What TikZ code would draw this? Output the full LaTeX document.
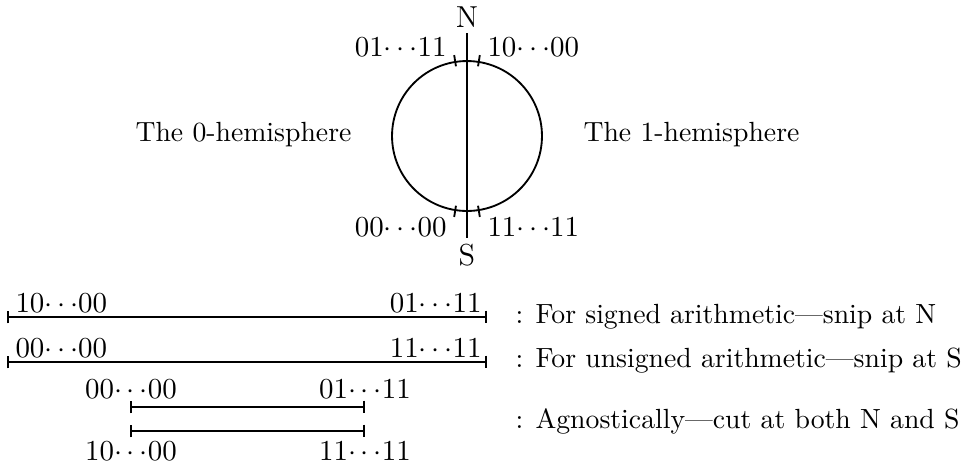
\documentclass[tikz,border=0pt]{standalone}
\usetikzlibrary{positioning, arrows.meta, calc}

\newcommand{\bitrun}[2]{$#1{\cdots}#2$}

\begin{document}
\begin{tikzpicture}[
  x=0.0133cm, y=-0.0133cm,
  font=\fontsize{10.5}{12}\selectfont,
  globe/.style={draw, circle, line width=0.7pt, inner sep=0pt,
                minimum size=1.995cm},
  pole/.style={inner sep=2pt, font=\fontsize{11.5}{13}\selectfont},
  cut/.style={line width=0.7pt},
  span/.style={{Bar[width=1.7mm, line width=0.8pt]}-{Bar[width=1.7mm, line width=0.8pt]},
               line width=0.8pt},
  bits/.style={inner sep=0pt},
  note/.style={anchor=base west, inner sep=0pt},
]
\useasboundingbox (0,0) rectangle (967,469);

% ------------------- the number circle -------------------
\node[globe] (ring) at (467,136) {};
\node[pole] (north) at (467,17) {N};
\node[pole] (south) at (467,255) {S};
\draw[cut] (north) -- (south);

% small cuts either side of each pole
\foreach \a in {81, 99, 261, 279}
  \draw[cut] ($(ring.center)!0.93!(ring.\a)$) -- ($(ring.center)!1.08!(ring.\a)$);

\node[bits, anchor=east] (nleft)  at (447,47)  {\bitrun{01}{11}};
\node[bits, anchor=west] (nright) at (487,47)  {\bitrun{10}{00}};
\node[bits, anchor=east] (sleft)  at (447,227) {\bitrun{00}{00}};
\node[bits, anchor=west] (sright) at (487,227) {\bitrun{11}{11}};

\node[bits, anchor=east] (zero) at (352,135) {The 0-hemisphere};
\node[bits, anchor=west] (one)  at (583,135) {The 1-hemisphere};

% ------------------- signed: snip at N -------------------
\coordinate (sg0) at (7,317);
\coordinate (sg1) at (487,317);
\draw[span] (sg0) -- (sg1);
\node[bits, anchor=base west] (sglo) at (15,312)  {\bitrun{10}{00}};
\node[bits, anchor=base east] (sghi) at (482,312) {\bitrun{01}{11}};
\node[note] (sgtxt) at (515,323) {: For signed arithmetic---snip at N};

% ------------------- unsigned: snip at S -------------------
\coordinate (us0) at (7,362);
\coordinate (us1) at (487,362);
\draw[span] (us0) -- (us1);
\node[bits, anchor=base west] (uslo) at (15,357)  {\bitrun{00}{00}};
\node[bits, anchor=base east] (ushi) at (482,357) {\bitrun{11}{11}};
\node[note] (ustxt) at (515,367) {: For unsigned arithmetic---snip at S};

% ------------------- agnostic: cut at both -------------------
\coordinate (ag0) at (130,407);
\coordinate (ag1) at (365,407);
\coordinate (ag2) at (130,431);
\coordinate (ag3) at (365,431);
\draw[span] (ag0) -- (ag1);
\draw[span] (ag2) -- (ag3);
\node[bits, anchor=base] (aglo) at (131,398) {\bitrun{00}{00}};
\node[bits, anchor=base] (aghi) at (365,398) {\bitrun{01}{11}};
\node[bits, anchor=base] (ablo) at (131,460) {\bitrun{10}{00}};
\node[bits, anchor=base] (abhi) at (365,460) {\bitrun{11}{11}};
\node[note] (agtxt) at (515,428) {: Agnostically---cut at both N and S};

\end{tikzpicture}
\end{document}
